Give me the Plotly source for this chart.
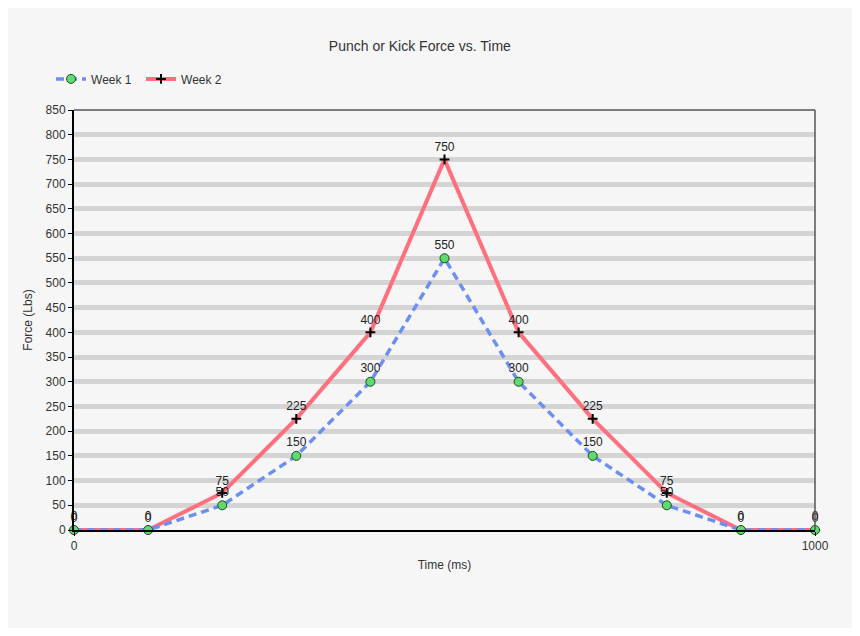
import plotly.graph_objects as go

time_ms = [0, 100, 200, 300, 400, 500, 600, 700, 800, 900, 1000]
week1 = [0, 0, 50, 150, 300, 550, 300, 150, 50, 0, 0]
week2 = [0, 0, 75, 225, 400, 750, 400, 225, 75, 0, 0]
y_ticks = list(range(0, 851, 50))
x_ticks = [0, 1000]

FONT = "Liberation Sans, Arial, sans-serif"

fig = go.Figure()

fig.add_trace(go.Scatter(
    x=time_ms, y=week2, name="Week 2", mode="lines+markers+text",
    text=[str(v) for v in week2], textposition="top center",
    textfont=dict(size=12, color="#222222", family=FONT),
    line=dict(color="#ff6f7e", width=4),
    marker=dict(symbol="cross-thin", size=7, color="#000000",
                line=dict(color="#000000", width=2)),
    legendrank=2, cliponaxis=False,
))
fig.add_trace(go.Scatter(
    x=time_ms, y=week1, name="Week 1", mode="lines+markers+text",
    text=[str(v) for v in week1], textposition="top center",
    textfont=dict(size=12, color="#222222", family=FONT),
    line=dict(color="#6d8ff2", width=3.5, dash="8px,5px"),
    marker=dict(symbol="circle", size=9, color="#5edb6e",
                line=dict(color="#1f4a22", width=1)),
    legendrank=1, cliponaxis=False,
))

fig.update_layout(
    width=844, height=620,
    paper_bgcolor="#f6f6f6", plot_bgcolor="#f6f6f6",
    margin=dict(l=66, r=37, t=102, b=98),
    font=dict(family=FONT, size=12, color="#333333"),
    title=dict(text="Punch or Kick Force vs. Time", x=0.488, xanchor="center",
               y=0.939, yanchor="middle", font=dict(size=14, color="#333333")),
    legend=dict(orientation="h", x=-0.031, xanchor="left", y=1.074, yanchor="middle",
                bgcolor="rgba(0,0,0,0)", font=dict(size=12, color="#333333"),
                itemwidth=30, entrywidth=45, entrywidthmode="pixels"),
    showlegend=True,
    xaxis=dict(range=[0, 1000], tickvals=x_ticks, showgrid=False, zeroline=False,
               showline=True, linecolor="#000000", linewidth=2,
               ticks="outside", ticklen=4, tickcolor="#000000",
               title=dict(text="Time (ms)", font=dict(size=12), standoff=8)),
    yaxis=dict(range=[0, 850], tickvals=y_ticks, showgrid=True, gridcolor="#d4d4d4",
               gridwidth=5, zeroline=False,
               showline=True, linecolor="#000000", linewidth=2,
               ticks="outside", ticklen=4, tickcolor="#000000",
               title=dict(text="Force (Lbs)", font=dict(size=12), standoff=10)),
    shapes=[
        dict(type="line", xref="paper", yref="paper", x0=0, x1=1, y0=1, y1=1,
             line=dict(color="#555555", width=1.5)),
        dict(type="line", xref="paper", yref="paper", x0=1, x1=1, y0=0, y1=1,
             line=dict(color="#555555", width=1.5)),
    ],
)

fig.write_html("out.html")
